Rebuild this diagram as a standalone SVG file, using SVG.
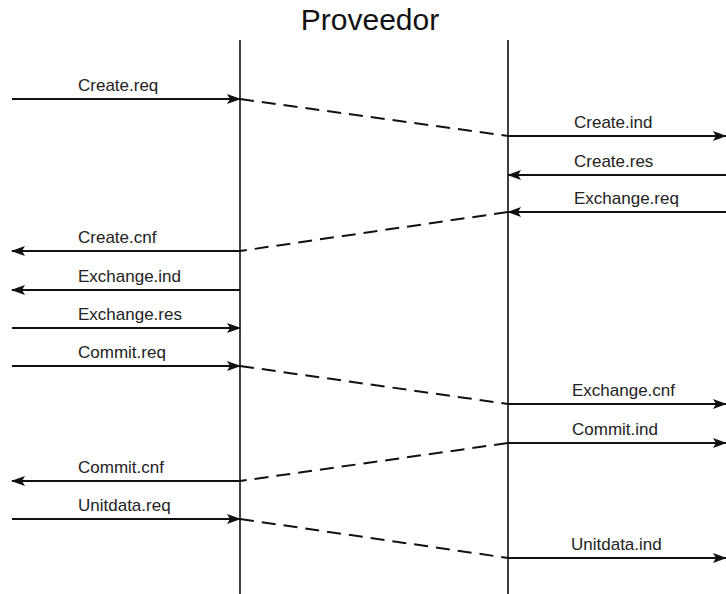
<svg xmlns="http://www.w3.org/2000/svg" width="726" height="594" viewBox="0 0 726 594">
<defs>
<marker id="ah" viewBox="0 0 14 10" refX="13" refY="5" markerWidth="14" markerHeight="10" markerUnits="userSpaceOnUse" orient="auto">
<path d="M0,0 L14,5 L0,10 L3,5 Z" fill="#111"/>
</marker>
<style>
.t{font-family:"Liberation Sans",Arial,sans-serif;font-size:17px;fill:#222}
.ttl{font-family:"Liberation Sans",Arial,sans-serif;font-size:30px;fill:#111}
.life{stroke:#111;stroke-width:1.6;fill:none}
.msg{stroke:#111;stroke-width:2;fill:none;marker-end:url(#ah)}
.dash{stroke:#111;stroke-width:2;fill:none;stroke-dasharray:14 8}
</style>
</defs>
<rect width="726" height="594" fill="#fff"/>
<g id="title"><text class="ttl" x="370" y="30" text-anchor="middle">Proveedor</text></g>
<g id="lifelines">
<line class="life" x1="240" y1="40" x2="240" y2="594"/>
<line class="life" x1="508" y1="40" x2="508" y2="594"/>
</g>
<g id="connectors">
<line class="msg" x1="12" y1="99" x2="240" y2="99"/>
<line class="dash" x1="240" y1="99" x2="508" y2="136"/>
<line class="msg" x1="508" y1="136" x2="726" y2="136"/>
<line class="msg" x1="726" y1="175" x2="508" y2="175"/>
<line class="msg" x1="726" y1="212" x2="508" y2="212"/>
<line class="dash" x1="508" y1="212" x2="240" y2="251"/>
<line class="msg" x1="240" y1="251" x2="12" y2="251"/>
<line class="msg" x1="240" y1="290" x2="12" y2="290"/>
<line class="msg" x1="12" y1="328" x2="240" y2="328"/>
<line class="msg" x1="12" y1="366" x2="240" y2="366"/>
<line class="dash" x1="240" y1="366" x2="508" y2="404"/>
<line class="msg" x1="508" y1="404" x2="726" y2="404"/>
<line class="msg" x1="508" y1="443" x2="726" y2="443"/>
<line class="dash" x1="508" y1="443" x2="240" y2="481"/>
<line class="msg" x1="240" y1="481" x2="12" y2="481"/>
<line class="msg" x1="12" y1="519" x2="240" y2="519"/>
<line class="dash" x1="240" y1="519" x2="508" y2="558"/>
<line class="msg" x1="508" y1="558" x2="726" y2="558"/>
</g>
<g id="labels">
<text class="t" x="78" y="91">Create.req</text>
<text class="t" x="574" y="128">Create.ind</text>
<text class="t" x="574" y="167">Create.res</text>
<text class="t" x="574" y="204">Exchange.req</text>
<text class="t" x="78" y="243">Create.cnf</text>
<text class="t" x="78" y="282">Exchange.ind</text>
<text class="t" x="78" y="320">Exchange.res</text>
<text class="t" x="78" y="358">Commit.req</text>
<text class="t" x="572" y="396">Exchange.cnf</text>
<text class="t" x="572" y="435">Commit.ind</text>
<text class="t" x="78" y="473">Commit.cnf</text>
<text class="t" x="78" y="511">Unitdata.req</text>
<text class="t" x="571" y="550">Unitdata.ind</text>
</g>
</svg>
